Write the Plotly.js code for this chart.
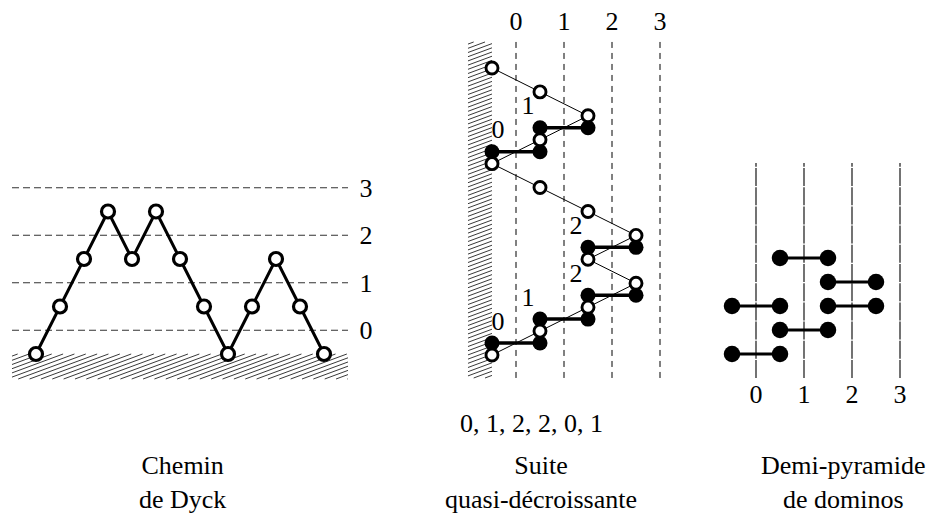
<!DOCTYPE html>
<html><head><meta charset="utf-8">
<script src="https://cdn.plot.ly/plotly-3.0.1.min.js"></script>
<style>html,body{margin:0;padding:0;background:#fff}#chart{width:928px;height:513px}</style>
</head><body><div id="chart"></div>
<script>
// ---- data ----
const dyckHeights = [0,1,2,3,2,3,2,1,0,1,2,1,0];
const levelLabels = ['0','1','2','3'];
const columnLabels = ['0','1','2','3'];
const sequenceText = '0, 1, 2, 2, 0, 1';
const pyramidColumns = [0,1,2,2,0,1];
const pyramidLevels = [0,1,2,3,2,4];
const captions = [['Chemin','de Dyck'],['Suite','quasi-décroissante'],['Demi-pyramide','de dominos']];

// ---- geometry helpers ----
const W=928,H=513;
const FONT='Liberation Serif';
const FS=26;
function xAxis(ox,sx,p0,p1){return {domain:[p0/W,p1/W],range:[(p0-ox)/sx,(p1-ox)/sx],visible:false,fixedrange:true};}
function yAxis(oy,sy,p0,p1){return {domain:[1-p1/H,1-p0/H],range:[(oy-p1)/sy,(oy-p0)/sy],visible:false,fixedrange:true};}
function hatch(x0,y0,x1,y1,t,step){
  let d='';
  const cMin=y0+t*x0, cMax=y1+t*x1;
  for(let c=cMin+step*0.5;c<cMax;c+=step){
    const xa=Math.max(x0,(c-y1)/t), xb=Math.min(x1,(c-y0)/t);
    if(xb-xa<0.5) continue;
    const ya=c-t*xa, yb=c-t*xb;
    d+='M'+(xa/W).toFixed(5)+','+(1-ya/H).toFixed(5)+' L'+(xb/W).toFixed(5)+','+(1-yb/H).toFixed(5)+' ';
  }
  return {type:'path',path:d,xref:'paper',yref:'paper',line:{color:'#222',width:0.9},layer:'below'};
}

const idx = dyckHeights.map((_,i)=>i);
const traces=[];
const shapes=[];
const annotations=[];
const tf={family:FONT,size:FS,color:'#000'};

// ---- Panel 1 : Dyck path ----
levelLabels.forEach((lab,k)=>{
  shapes.push({type:'line',xref:'x',yref:'y',x0:-1,x1:13,y0:k+0.5,y1:k+0.5,line:{color:'#333',width:1.1,dash:'7px,4px'},layer:'below'});
});
shapes.push(hatch(12,354,348,379,0.37,4.2));
traces.push({x:idx,y:dyckHeights,xaxis:'x',yaxis:'y',mode:'lines+markers',cliponaxis:false,
  line:{color:'#000',width:3},marker:{size:13,color:'#fff',line:{color:'#000',width:3.2}},hoverinfo:'skip'});
traces.push({x:levelLabels.map(()=>13.75),y:levelLabels.map((_,k)=>k+0.45),text:levelLabels,xaxis:'x',yaxis:'y',
  mode:'text',textposition:'middle center',textfont:tf,cliponaxis:false,hoverinfo:'skip'});

// ---- Panel 2 : quasi-decreasing sequence ----
columnLabels.forEach((lab,k)=>{
  shapes.push({type:'line',xref:'x2',yref:'y2',x0:k+0.5,x1:k+0.5,y0:-0.96,y1:13.09,line:{color:'#000',width:1,dash:'6px,5px'},layer:'below'});
});
shapes.push(hatch(468,42,492,378,0.37,4.2));
traces.push({x:dyckHeights,y:idx,xaxis:'x2',yaxis:'y2',mode:'lines',line:{color:'#000',width:1},cliponaxis:false,hoverinfo:'skip'});
const dx=[],dy=[],lx=[],ly=[],lt=[];
for(let j=0;j<dyckHeights.length-1;j++){
  if(dyckHeights[j+1]>dyckHeights[j]){
    const h=dyckHeights[j];
    dx.push(h,h+1,null); dy.push(j+0.5,j+0.5,null);
    lx.push(Math.max(h-0.25,0.125)); ly.push(j+0.5+0.83); lt.push(String(h));
  }
}
traces.push({x:dx,y:dy,xaxis:'x2',yaxis:'y2',mode:'lines+markers',connectgaps:false,cliponaxis:false,
  line:{color:'#000',width:3.5},marker:{size:15,color:'#000'},hoverinfo:'skip'});
traces.push({x:dyckHeights,y:idx,xaxis:'x2',yaxis:'y2',mode:'markers',cliponaxis:false,
  marker:{size:12,color:'#fff',line:{color:'#000',width:2.9}},hoverinfo:'skip'});
traces.push({x:lx,y:ly,text:lt,xaxis:'x2',yaxis:'y2',mode:'text',textposition:'middle center',
  textfont:tf,cliponaxis:false,hoverinfo:'skip'});
traces.push({x:columnLabels.map((_,k)=>k+0.5),y:columnLabels.map(()=>13.85),text:columnLabels,xaxis:'x2',yaxis:'y2',
  mode:'text',textposition:'middle center',textfont:tf,cliponaxis:false,hoverinfo:'skip'});

// ---- Panel 3 : half-pyramid of dominoes ----
columnLabels.forEach((lab,k)=>{
  shapes.push({type:'line',xref:'x3',yref:'y3',x0:k,x1:k,y0:-1,y1:7.96,line:{color:'#000',width:1.1,dash:'18px,1.2px'},layer:'below'});
});
const px=[],py=[];
pyramidColumns.forEach((c,n)=>{px.push(c-0.5,c+0.5,null);py.push(pyramidLevels[n],pyramidLevels[n],null);});
traces.push({x:px,y:py,xaxis:'x3',yaxis:'y3',mode:'lines+markers',connectgaps:false,cliponaxis:false,
  line:{color:'#000',width:3.2},marker:{size:16.5,color:'#000'},hoverinfo:'skip'});
traces.push({x:columnLabels.map((_,k)=>k),y:columnLabels.map(()=>-1.75),text:columnLabels,xaxis:'x3',yaxis:'y3',
  mode:'text',textposition:'middle center',textfont:tf,cliponaxis:false,hoverinfo:'skip'});

// ---- texts ----
annotations.push({xref:'paper',yref:'paper',x:531/W,y:1-423/H,text:sequenceText,showarrow:false,
  xanchor:'center',yanchor:'middle',font:tf});
const capX=[182,541,843];
captions.forEach((c,n)=>{
  annotations.push({xref:'paper',yref:'paper',x:capX[n]/W,y:1-482/H,text:c.join('<br>'),showarrow:false,
    xanchor:'center',yanchor:'middle',align:'center',font:tf});
});

const layout={width:W,height:H,margin:{l:0,r:0,t:0,b:0},paper_bgcolor:'#fff',plot_bgcolor:'rgba(0,0,0,0)',showlegend:false,
  xaxis:Object.assign(xAxis(36,24,0,420),{anchor:'y'}), yaxis:Object.assign(yAxis(354,47.5,150,400),{anchor:'x'}),
  xaxis2:Object.assign(xAxis(492,48,430,700),{anchor:'y2'}), yaxis2:Object.assign(yAxis(355,23.92,0,440),{anchor:'x2'}),
  xaxis3:Object.assign(xAxis(756,48,700,928),{anchor:'y3'}), yaxis3:Object.assign(yAxis(354,24,150,420),{anchor:'x3'}),
  shapes:shapes, annotations:annotations};
Plotly.newPlot('chart',traces,layout,{staticPlot:true,displayModeBar:false});
</script></body></html>
